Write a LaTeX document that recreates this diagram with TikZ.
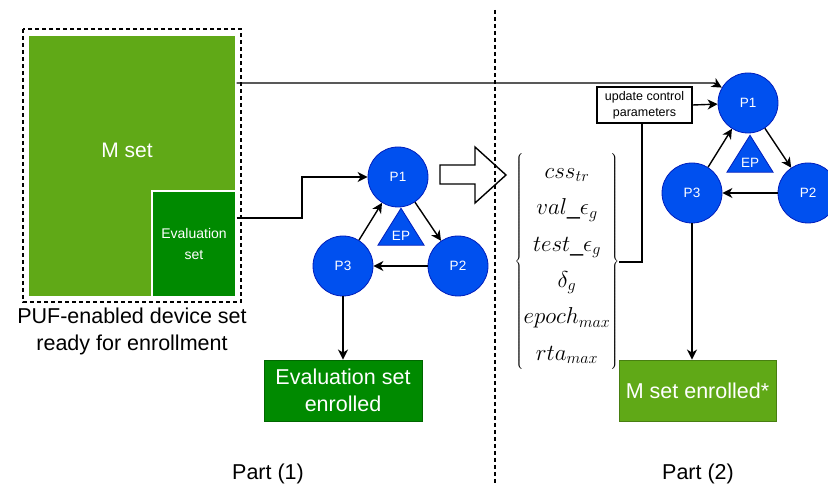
\RequirePackage{fix-cm}
\documentclass[tikz,border=0pt]{standalone}
\usepackage{fontspec}
\setmainfont{Liberation Sans}
\usetikzlibrary{arrows.meta,shapes.geometric}
\definecolor{lgreen}{HTML}{60A917}
\definecolor{dgreen}{HTML}{008A00}
\definecolor{pblue}{HTML}{0050EF}
\definecolor{pblueline}{HTML}{001DBC}
\tikzset{
  x=1pt, y=-1pt,
  phase/.style={circle, fill=pblue, draw=pblueline, line width=0.8pt, minimum size=60pt, inner sep=0pt, text=white, font=\fontsize{13.5}{16}\selectfont},
  eptri/.style={isosceles triangle, isosceles triangle apex angle=64, shape border rotate=90, fill=pblue, draw=pblueline, line width=0.8pt, minimum height=37pt, minimum width=46pt, inner sep=0pt, text=white, font=\fontsize{13.5}{16}\selectfont},
  link/.style={draw=black, line width=1.4pt, -{Stealth[length=10pt,width=10pt,inset=3pt]}},
  setbox/.style={draw=white, line width=1.2pt, inner sep=0pt, text=white, align=center},
  result/.style={inner sep=0pt, text=white, align=center, line width=0.9pt, minimum width=158pt, minimum height=61pt, font=\fontsize{21.5}{27}\selectfont},
  sepline/.style={line width=1.3pt, dash pattern=on 4pt off 3pt},
  partlabel/.style={font=\fontsize{21.5}{25}\selectfont},
}
\begin{document}
\begin{tikzpicture}
\useasboundingbox (0,0) rectangle (828,486);
\clip (0,0) rectangle (828,486);

% device set
\draw[sepline] (23,29) rectangle (241,302);
\node[setbox, fill=lgreen, minimum width=208pt, minimum height=262pt] (mset) at (132,166) {};
\node[text=white, font=\fontsize{21}{25}\selectfont] (msetlabel) at (127,150) {M set};
\node[setbox, fill=dgreen, minimum width=84pt, minimum height=106pt, font=\fontsize{14}{21}\selectfont] (evalset) at (194,244) {Evaluation\\set};
\node[align=center, font=\fontsize{21.5}{27}\selectfont] (devlabel) at (132,331) {PUF-enabled device set\\ready for enrollment};

% part 1 cycle
\node[phase] (p1a) at (398,177) {P1};
\node[phase] (p2a) at (458,266) {P2};
\node[phase] (p3a) at (343,266) {P3};
\node[eptri] (epa) at (401,236) {\raisebox{-7pt}{EP}};
\draw[link] (p1a) -- (p2a);
\draw[link] (p2a) -- (p3a);
\draw[link] (p3a) -- (p1a);
\node[result, fill=dgreen, draw=dgreen!75!black] (evdone) at (343,390.5) {Evaluation set\\enrolled};
\draw[link] (p3a) -- (evdone.north -| p3a);
\draw[link] (evalset.east |- 0,218) -- (302,218) -- (302,177) -- (p1a);

% hollow transfer arrow
\draw[line width=1.4pt, fill=white, line join=miter]
  (440,165) -- (475,165) -- (475,147) -- (506,175) -- (475,203) -- (475,184) -- (440,184) -- cycle;

% separator
\draw[sepline] (495,10) -- (495,486);

% control parameters
\node[inner sep=0pt, font=\fontsize{23}{26}\selectfont] (params) at (567,262) {$\left\{\renewcommand{\arraystretch}{1.4}\begin{array}{@{}c@{}}
css_{tr}\\ val\_\epsilon_g\\ test\_\epsilon_g\\ \delta_g\\ epoch_{max}\\ rta_{max}
\end{array}\right\}$};
\node[draw=black, line width=1.4pt, fill=white, align=center, inner sep=0pt, minimum width=95pt, minimum height=36pt, font=\fontsize{12.5}{16}\selectfont] (upd) at (644.5,105) {update control\\parameters};

% part 2 cycle
\node[phase] (p1b) at (748,103) {P1};
\node[phase] (p2b) at (808,193) {P2};
\node[phase] (p3b) at (692,193) {P3};
\node[eptri] (epb) at (750,163) {\raisebox{-7pt}{EP}};
\draw[link] (p1b) -- (p2b);
\draw[link] (p2b) -- (p3b);
\draw[link] (p3b) -- (p1b);
\node[result, fill=lgreen, draw=lgreen!75!black, minimum width=157pt] (mdone) at (697.5,390.5) {M set enrolled*};
\draw[link] (p3b) -- (mdone.north -| p3b);
\draw[line width=1.4pt] (params.east) -- (642,262) -- (upd.south -| 642,0);
\draw[link] (upd.east) -- (p1b);
\draw[link] (mset.east |- 0,83) -- (714,83) -- (p1b);

% part labels
\node[partlabel] (part1) at (268,474) {Part (1)};
\node[partlabel] (part2) at (698,474) {Part (2)};
\end{tikzpicture}
\end{document}
